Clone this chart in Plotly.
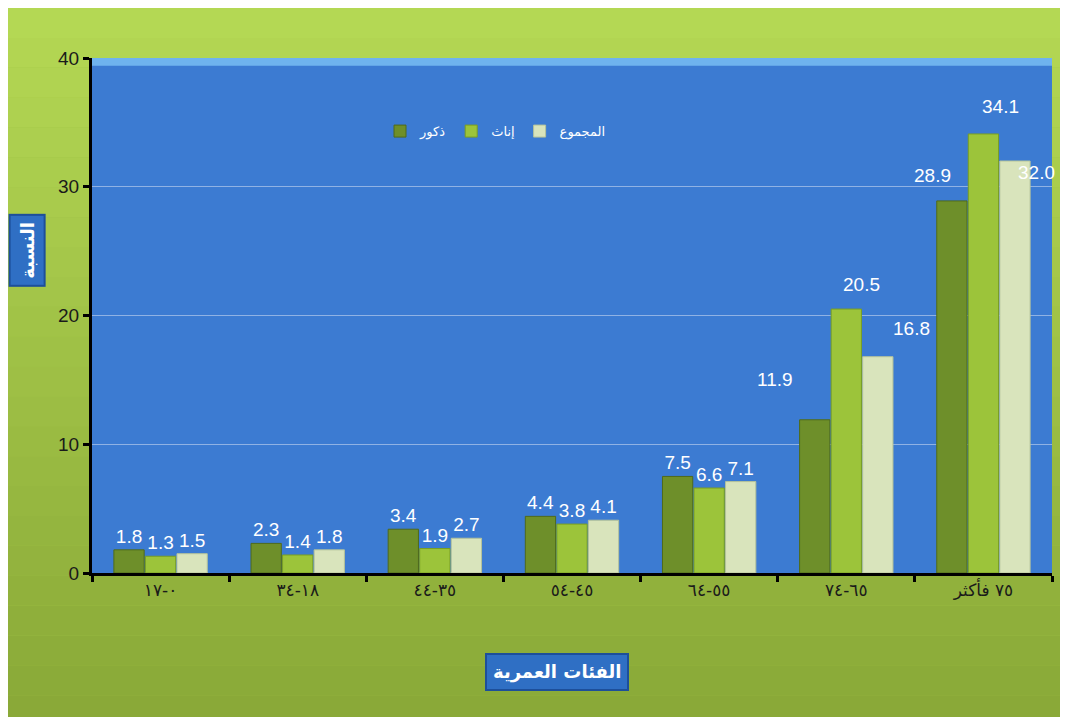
import plotly.graph_objects as go

categories = ["٠-١٧", "١٨-٣٤", "٣٥-٤٤", "٤٥-٥٤", "٥٥-٦٤", "٦٥-٧٤", "٧٥ فأكثر"]
males = [1.8, 2.3, 3.4, 4.4, 7.5, 11.9, 28.9]
females = [1.3, 1.4, 1.9, 3.8, 6.6, 20.5, 34.1]
total = [1.5, 1.8, 2.7, 4.1, 7.1, 16.8, 32.0]
series_names = ["ذكور", "إناث", "المجموع"]
y_ticks = [0, 10, 20, 30, 40]
y_max = 40

colors = ["#6E8F2A", "#9CC43A", "#D9E4BC"]
edge = ["#4F6A1A", "#7A9E22", "#B5C39A"]

# label nudges (pixels) for the crowded last two groups, per series: (xshift, yshift)
label_nudge = {
    (0, 5): (-39, 28), (1, 5): (15, 12), (2, 5): (33, 16),
    (0, 6): (-19, 13), (1, 6): (17, 15), (2, 6): (21, -24),
}

W, H = 1068, 717
L, R, T, B = 84, 24, 50, 152
pw, ph = W - L - R, H - T - B
slot = 32  # pixel spacing between bars in a group
ncat = len(categories)

fig = go.Figure()
annotations = []
for si, (name, vals, c, e) in enumerate(zip(series_names, [males, females, total], colors, edge)):
    texts = []
    for ci, v in enumerate(vals):
        if (si, ci) in label_nudge:
            texts.append("")
            dx, dy = label_nudge[(si, ci)]
            annotations.append(dict(x=(ci + 0.5) / ncat, y=v / y_max, xref="paper", yref="paper",
                                    text=f"{v:.1f}",
                                    showarrow=False, xshift=(si - 1) * slot + dx, yshift=dy,
                                    xanchor="center", yanchor="bottom",
                                    font=dict(color="white", size=19, family="Liberation Sans")))
        else:
            texts.append(f"{v:.1f}")
    fig.add_trace(go.Bar(
        x=categories, y=vals, name=name,
        marker=dict(color=c, line=dict(color=e, width=1)),
        text=texts, textposition="outside", constraintext="none",
        textfont=dict(color="white", size=19, family="Liberation Sans"),
        cliponaxis=False,
    ))

# background gradient bands (paper) + plot area
x0p, x1p = -L / pw, 1 + R / pw
y0p, y1p = -B / ph, 1 + T / ph
top_c = (0xB4, 0xD8, 0x54)
bot_c = (0x8A, 0xA9, 0x38)
n = 24
shapes = []
for i in range(n):
    f = i / (n - 1)
    col = tuple(int(top_c[k] + (bot_c[k] - top_c[k]) * f) for k in range(3))
    ya = y1p - (y1p - y0p) * i / n
    yb = y1p - (y1p - y0p) * (i + 1) / n
    shapes.append(dict(type="rect", xref="paper", yref="paper", x0=x0p, x1=x1p, y0=yb, y1=ya,
                       fillcolor="rgb(%d,%d,%d)" % col, line=dict(width=0), layer="below"))
shapes.append(dict(type="rect", xref="paper", yref="paper", x0=0, x1=1, y0=0, y1=1,
                   fillcolor="#3C7BD2", line=dict(width=0), layer="below"))
shapes.append(dict(type="rect", xref="paper", yref="paper", x0=0, x1=1, y0=0.985, y1=1,
                   fillcolor="#6FB3EE", line=dict(width=0), layer="below"))

annotations += [
    dict(text="<b>النسبة</b>", xref="paper", yref="paper", x=-0.068, y=0.627,
         xanchor="center", yanchor="middle",
         textangle=-90, showarrow=False, font=dict(color="white", size=18, family="DejaVu Sans"),
         bgcolor="#2F6FC4", bordercolor="#1D4F9A", borderwidth=2, borderpad=6),
    dict(text="<b>الفئات العمرية</b>", xref="paper", yref="paper", x=0.484, y=-0.192,
         xanchor="center", yanchor="middle",
         showarrow=False, font=dict(color="white", size=18, family="DejaVu Sans"),
         bgcolor="#2F6FC4", bordercolor="#1D4F9A", borderwidth=2, borderpad=6),
]

fig.update_layout(
    width=W, height=H,
    margin=dict(l=L, r=R, t=T, b=B),
    paper_bgcolor="#9FC246",
    plot_bgcolor="rgba(0,0,0,0)",
    barmode="group", bargap=0.31, bargroupgap=0.04,
    font=dict(family="Liberation Sans", color="#222"),
    legend=dict(orientation="h", x=0.3, y=0.858, xanchor="left", yanchor="middle",
                bgcolor="rgba(0,0,0,0)", font=dict(color="white", size=13, family="DejaVu Sans"),
                itemwidth=30, traceorder="normal"),
    showlegend=True,
    xaxis=dict(range=[-0.5, ncat - 0.5], autorange=False,
               showline=True, linecolor="black", linewidth=3, ticks="outside",
               tickson="boundaries", ticklen=6, tickwidth=3, tickcolor="black",
               tickfont=dict(size=17, color="#1a1a1a", family="DejaVu Sans")),
    yaxis=dict(range=[0, y_max], tickvals=y_ticks, showline=True, linecolor="black", linewidth=3,
               ticks="outside", ticklen=6, tickwidth=3, tickcolor="black",
               gridcolor="rgba(200,215,240,0.6)", gridwidth=1, zeroline=False,
               tickfont=dict(size=19, color="#1a1a1a", family="Liberation Sans")),
    shapes=shapes,
    annotations=annotations,
)

fig.write_html("out.html")
